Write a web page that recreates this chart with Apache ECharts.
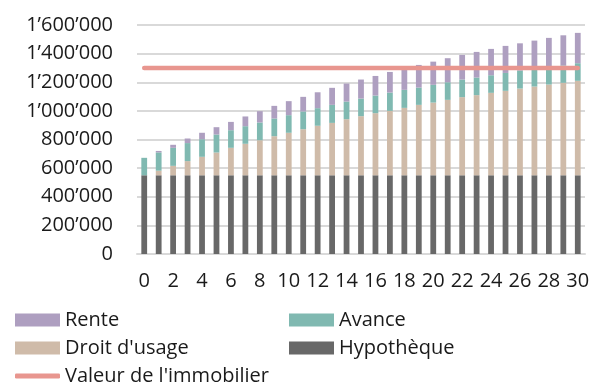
<!DOCTYPE html>
<html><head><meta charset="utf-8">
<script src="https://cdn.jsdelivr.net/npm/echarts@6/dist/echarts.min.js"></script>
<style>html,body{margin:0;padding:0;background:#fff}#c{width:595px;height:385px}</style>
</head><body><div id="c"></div>
<script>
const categories = ['0','1','2','3','4','5','6','7','8','9','10','11','12','13','14','15','16','17','18','19','20','21','22','23','24','25','26','27','28','29','30'];
const hypotheque = [550000,550000,550000,550000,550000,550000,550000,550000,550000,550000,550000,550000,550000,550000,550000,550000,550000,550000,550000,550000,550000,550000,550000,550000,550000,550000,550000,550000,550000,550000,550000];
const droitUsage = [0,32000,66000,99000,129000,159000,192000,220000,245000,273000,297000,322000,346000,366000,392000,413000,434000,450000,471000,492000,508000,527000,546000,560000,576000,590000,606000,620000,634000,646000,660000];
const avance = [122000,128000,126000,126000,123000,126000,123000,123000,124000,124000,123000,124000,123000,126000,123000,123000,123000,128000,126000,121000,124000,123000,123000,123000,123000,125000,126000,123000,121000,121000,123000];
const rente = [0,10000,21000,32000,45000,51000,58000,68000,79000,88000,98000,102000,111000,119000,126000,133000,137000,144000,152000,158000,162000,168000,172000,179000,184000,189000,190000,198000,205000,211000,212000];
const valeur = [1300000,1300000,1300000,1300000,1300000,1300000,1300000,1300000,1300000,1300000,1300000,1300000,1300000,1300000,1300000,1300000,1300000,1300000,1300000,1300000,1300000,1300000,1300000,1300000,1300000,1300000,1300000,1300000,1300000,1300000,1300000];
const yTicks = {min:0, max:1600000, interval:200000};

const FONT = 'Open Sans';
const TXT = '#1a1a1a';
const COLORS = {rente:'#ae9fc0', avance:'#80b9b1', droit:'#cfbba9', hypo:'#686868', valeur:'#e8968f'};

function fmt(v){ return String(v).replace(/\B(?=(\d{3})+(?!\d))/g, '\u2019'); }

function legend(name, left, top, isLine){
  return {
    data:[{name:name, icon: isLine ? 'roundRect' : 'rect'}],
    left:left, top:top, padding:0,
    itemWidth:45, itemHeight: isLine ? 5 : 13,
    textStyle:{fontFamily:FONT, fontSize:20, color:TXT, lineHeight:26},
    selectedMode:false
  };
}

const chart = echarts.init(document.getElementById('c'), null, {renderer:'canvas'});
chart.setOption({
  animation:false,
  textStyle:{fontFamily:FONT},
  grid:{left:137, right:10, top:25, bottom:131, containLabel:false},
  legend:[
    legend('Rente', 15, 307, false),
    legend('Avance', 289, 307, false),
    legend("Droit d'usage", 15, 335, false),
    legend('Hypothèque', 289, 335, false),
    legend("Valeur de l'immobilier", 15, 363, true)
  ],
  xAxis:{
    type:'category', data:categories,
    axisLine:{lineStyle:{color:'#d9d9d9', width:2}},
    axisTick:{show:false},
    axisLabel:{interval:1, color:TXT, fontFamily:FONT, fontSize:20, margin:17}
  },
  yAxis:{
    type:'value', min:yTicks.min, max:yTicks.max, interval:yTicks.interval,
    axisLine:{show:false}, axisTick:{show:false},
    splitLine:{lineStyle:{color:'#d9d9d9', width:2}},
    axisLabel:{color:TXT, fontFamily:FONT, fontSize:20, margin:24, formatter:fmt}
  },
  series:[
    {name:'Hypothèque', type:'bar', stack:'s', data:hypotheque, barWidth:'40%', itemStyle:{color:COLORS.hypo}},
    {name:"Droit d'usage", type:'bar', stack:'s', data:droitUsage, itemStyle:{color:COLORS.droit}},
    {name:'Avance', type:'bar', stack:'s', data:avance, itemStyle:{color:COLORS.avance}},
    {name:'Rente', type:'bar', stack:'s', data:rente, itemStyle:{color:COLORS.rente}},
    {name:"Valeur de l'immobilier", type:'line', data:valeur, symbol:'none', z:5,
     lineStyle:{color:COLORS.valeur, width:4.5, cap:'round'}, itemStyle:{color:COLORS.valeur}}
  ]
});
</script></body></html>
